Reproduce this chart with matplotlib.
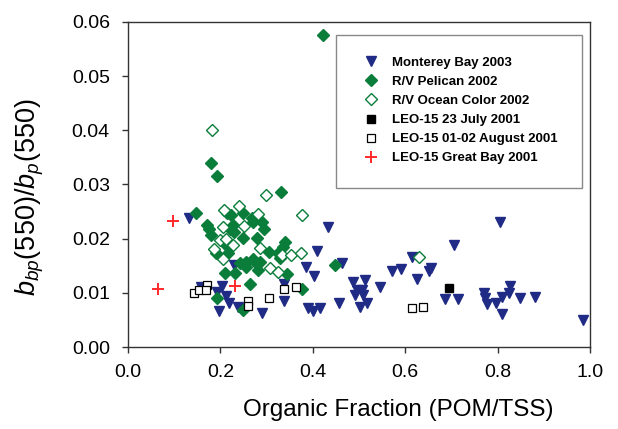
import matplotlib
matplotlib.use("Agg")
import matplotlib.pyplot as plt
from matplotlib.patches import Rectangle

plt.rcParams['font.family'] = ['Liberation Sans', 'DejaVu Sans']
plt.rcParams['mathtext.fontset'] = 'custom'
plt.rcParams['mathtext.rm'] = 'Liberation Sans'
plt.rcParams['mathtext.it'] = 'Liberation Sans:italic'

# Monterey Bay 2003
mb_x = [0.132, 0.158, 0.193, 0.203, 0.212, 0.219, 0.197, 0.238, 0.229, 0.290,
        0.338, 0.338, 0.385, 0.403, 0.409, 0.433, 0.390, 0.400, 0.416, 0.457,
        0.463, 0.487, 0.513, 0.496, 0.506, 0.491, 0.509, 0.517, 0.502, 0.545,
        0.571, 0.591, 0.615, 0.652, 0.656, 0.626, 0.706, 0.686, 0.714, 0.805,
        0.771, 0.773, 0.777, 0.797, 0.810, 0.810, 0.827, 0.825, 0.848, 0.881,
        0.985]
mb_y = [0.0239, 0.0111, 0.0102, 0.0113, 0.0094, 0.0081, 0.0067, 0.0074, 0.0152, 0.0063,
        0.0117, 0.0085, 0.0148, 0.0131, 0.0178, 0.0222, 0.0072, 0.0067, 0.0072, 0.0081,
        0.0156, 0.0120, 0.0124, 0.0106, 0.0106, 0.0096, 0.0096, 0.0081, 0.0074, 0.0111,
        0.0141, 0.0144, 0.0167, 0.0141, 0.0146, 0.0126, 0.0189, 0.0089, 0.0089, 0.0231,
        0.0100, 0.0091, 0.0080, 0.0081, 0.0093, 0.0061, 0.0113, 0.0100, 0.0091, 0.0093,
        0.0050]

# R/V Pelican 2002
pel_x = [0.422, 0.180, 0.193, 0.331, 0.147, 0.171, 0.175, 0.180, 0.214, 0.223,
         0.227, 0.221, 0.229, 0.249, 0.268, 0.271, 0.290, 0.294, 0.249, 0.279,
         0.214, 0.216, 0.190, 0.305, 0.325, 0.335, 0.340, 0.329, 0.242, 0.255,
         0.271, 0.277, 0.286, 0.281, 0.210, 0.232, 0.344, 0.264, 0.377, 0.193,
         0.249, 0.448, 0.214, 0.255]
pel_y = [0.0576, 0.0339, 0.0315, 0.0287, 0.0248, 0.0226, 0.0217, 0.0207, 0.0248, 0.0244,
         0.0226, 0.0217, 0.0213, 0.0248, 0.0239, 0.0230, 0.0230, 0.0217, 0.0202, 0.0202,
         0.0193, 0.0174, 0.0174, 0.0176, 0.0174, 0.0185, 0.0193, 0.0165, 0.0156, 0.0157,
         0.0163, 0.0156, 0.0157, 0.0143, 0.0137, 0.0137, 0.0135, 0.0117, 0.0107, 0.0091,
         0.0069, 0.0152, 0.0187, 0.0148]

# R/V Ocean Color 2002
oc_x = [0.182, 0.299, 0.377, 0.240, 0.208, 0.281, 0.251, 0.206, 0.199, 0.227,
        0.186, 0.286, 0.206, 0.333, 0.353, 0.374, 0.307, 0.325, 0.630, 0.213]
oc_y = [0.0400, 0.0281, 0.0243, 0.0261, 0.0252, 0.0246, 0.0224, 0.0222, 0.0198, 0.0189,
        0.0181, 0.0183, 0.0163, 0.0170, 0.0169, 0.0174, 0.0146, 0.0139, 0.0167, 0.0200]

# LEO-15 23 July 2001
jul_x = [0.695]
jul_y = [0.0109]

# LEO-15 01-02 August 2001
aug_x = [0.143, 0.154, 0.171, 0.169, 0.260, 0.260, 0.305, 0.338, 0.364, 0.615, 0.639]
aug_y = [0.0100, 0.0106, 0.0115, 0.0106, 0.0085, 0.0076, 0.0091, 0.0107, 0.0111, 0.0072, 0.0073]

# LEO-15 Great Bay 2001
gb_x = [0.097, 0.065, 0.232]
gb_y = [0.0233, 0.0107, 0.0113]

navy = '#1f2b85'
green = '#0b7d3b'

fig = plt.figure(figsize=(6.18, 4.29), dpi=100)
ax = fig.add_axes([0.207, 0.191, 0.748, 0.758])

ax.plot(mb_x, mb_y, 'v', color=navy, ms=7.5, mec=navy, ls='none', label='Monterey Bay 2003')
ax.plot(pel_x, pel_y, 'D', color=green, ms=6, mec=green, ls='none', label='R/V Pelican 2002')
ax.plot(oc_x, oc_y, 'D', mfc='white', mec=green, ms=6, mew=1.0, ls='none', label='R/V Ocean Color 2002')
ax.plot(jul_x, jul_y, 's', color='black', ms=5.5, ls='none', label='LEO-15 23 July 2001')
ax.plot(aug_x, aug_y, 's', mfc='white', mec='black', ms=5.5, mew=0.9, ls='none', label='LEO-15 01-02 August 2001')
ax.plot(gb_x, gb_y, '+', color='#ff2a2a', ms=8, mew=1.4, ls='none', label='LEO-15 Great Bay 2001')

ax.set_xlim(0, 1.0)
ax.set_ylim(0, 0.06)
ax.set_xticks([0.0, 0.2, 0.4, 0.6, 0.8, 1.0])
ax.set_xticklabels(['0.0', '0.2', '0.4', '0.6', '0.8', '1.0'])
ax.set_yticks([0.0, 0.01, 0.02, 0.03, 0.04, 0.05, 0.06])
ax.set_yticklabels(['0.00', '0.01', '0.02', '0.03', '0.04', '0.05', '0.06'])
ax.tick_params(direction='out', length=4, width=1, labelsize=14, color='#333333')
ax.tick_params(axis='x', pad=8)
ax.tick_params(axis='y', pad=9)
for s in ax.spines.values():
    s.set_color('#333333')
    s.set_linewidth(1.0)

ax.set_xlabel('Organic Fraction (POM/TSS)', fontsize=17.5, labelpad=12)
ax.xaxis.set_label_coords(0.585, -0.16)
ax.set_ylabel(r'$b_{bp}$(550)/$b_p$(550)', fontsize=19.5)
ax.yaxis.set_label_coords(-0.178, 0.46)

# legend box
ax.add_patch(Rectangle((0.45, 0.489), 0.533, 0.471, transform=ax.transAxes,
                       fill=False, edgecolor='#888888', lw=1.0, zorder=5))
leg = ax.legend(loc='upper left', bbox_to_anchor=(0.512, 0.893), frameon=False,
                prop={'weight': 'bold', 'size': 9.5}, handlelength=1.0,
                handletextpad=1.1, labelspacing=0.52, borderpad=0, borderaxespad=0)

fig.savefig('out.png', dpi=100)
